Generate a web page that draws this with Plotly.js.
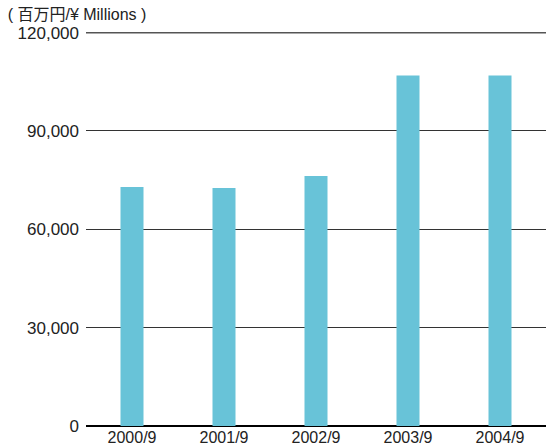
<!DOCTYPE html>
<html>
<head>
<meta charset="utf-8">
<script src="https://cdn.plot.ly/plotly-3.0.1.min.js"></script>
<style>html,body{margin:0;padding:0;background:#fff;}#chart{width:547px;height:446px;}</style>
</head>
<body>
<div id="chart"></div>
<script>
const categories = ["2000/9", "2001/9", "2002/9", "2003/9", "2004/9"];
const values = [72900, 72600, 76300, 106900, 106900];
const tickVals = [0, 30000, 60000, 90000, 120000];
const tickText = ["0", "30,000", "60,000", "90,000", "120,000"];
const unitTitle = "( 百万円/¥ Millions )";
const topGrid = 120000;

const trace = {
  type: "bar",
  x: categories,
  y: values,
  width: 0.25,
  marker: {color: "#68c3d8", line: {width: 0}},
  hoverinfo: "skip"
};

const layout = {
  width: 547,
  height: 446,
  margin: {l: 86, r: 1, t: 32, b: 20, pad: 0},
  paper_bgcolor: "#ffffff",
  plot_bgcolor: "#ffffff",
  showlegend: false,
  font: {family: "Liberation Sans, Arial, sans-serif", color: "#222", size: 15},
  title: {
    text: unitTitle,
    x: 0.014, xanchor: "left", xref: "container",
    y: 1 - 14/446, yanchor: "middle", yref: "container",
    font: {family: "Liberation Sans, Noto Sans CJK JP, sans-serif", size: 16, color: "#222"}
  },
  xaxis: {
    type: "category",
    showgrid: false,
    showline: false,
    ticks: "",
    tickfont: {size: 16, color: "#222"},
    fixedrange: true
  },
  yaxis: {
    range: [0, 120200],
    tickvals: tickVals,
    ticktext: tickText,
    showgrid: true,
    gridcolor: "#333",
    gridwidth: 1,
    zeroline: true,
    zerolinecolor: "#000",
    zerolinewidth: 2,
    showline: false,
    ticks: "",
    ticklabelstandoff: 6,
    tickfont: {size: 17, color: "#222"},
    fixedrange: true
  },
  shapes: [{
    type: "line", xref: "paper", yref: "y",
    x0: 0, x1: 1, y0: topGrid, y1: topGrid,
    line: {color: "#555", width: 1.5}, layer: "below"
  }]
};

Plotly.newPlot("chart", [trace], layout, {displayModeBar: false, staticPlot: true});
</script>
</body>
</html>
